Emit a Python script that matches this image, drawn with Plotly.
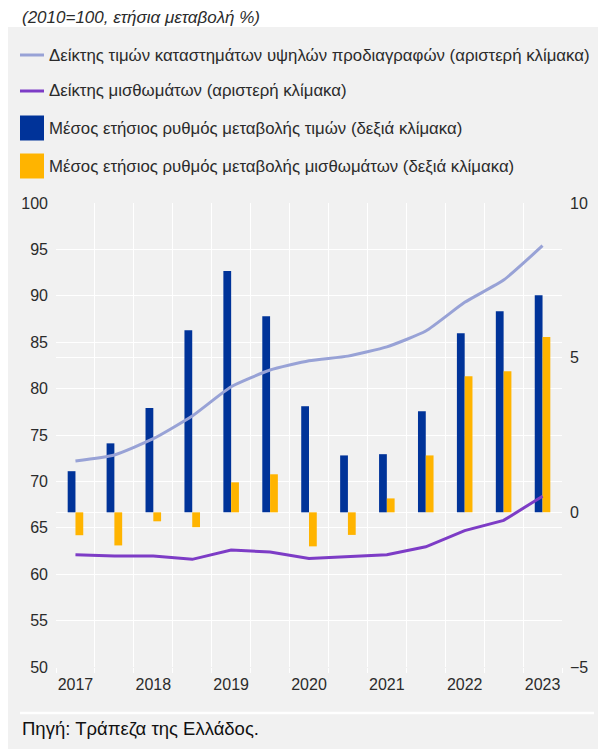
import plotly.graph_objects as go

# ---- data (semi-annual observations, 2017-2023) ----
periods = ["2017 Α", "2017 Β", "2018 Α", "2018 Β", "2019 Α", "2019 Β", "2020 Α",
           "2020 Β", "2021 Α", "2021 Β", "2022 Α", "2022 Β", "2023 Α"]
year_labels = ["2017", "2018", "2019", "2020", "2021", "2022", "2023"]

price_index = [72.2, 72.85, 74.6, 77.05, 80.2, 82.0, 83.0, 83.5, 84.5, 86.2, 89.3, 91.7, 95.4]
rent_index = [62.1, 61.95, 61.95, 61.6, 62.6, 62.4, 61.7, 61.9, 62.1, 62.95, 64.7, 65.8, 68.4]
price_growth = [1.33, 2.23, 3.37, 5.89, 7.8, 6.34, 3.43, 1.84, 1.88, 3.27, 5.79, 6.5, 7.02]
rent_growth = [-0.74, -1.07, -0.29, -0.48, 0.97, 1.23, -1.1, -0.73, 0.45, 1.84, 4.4, 4.56, 5.67]

names = [
    "Δείκτης τιμών καταστημάτων υψηλών προδιαγραφών (αριστερή κλίμακα)",
    "Δείκτης μισθωμάτων (αριστερή κλίμακα)",
    "Μέσος ετήσιος ρυθμός μεταβολής τιμών (δεξιά κλίμακα)",
    "Μέσος ετήσιος ρυθμός μεταβολής μισθωμάτων (δεξιά κλίμακα)",
]
colors = ["#98a2d6", "#7d3cc6", "#003399", "#ffb400"]
kinds = ["line", "line", "bar", "bar"]

x = list(range(len(periods)))
FONT = "Liberation Sans, Arial, sans-serif"
BG = "#f1f1f1"
TXT = "#2b2b2b"

# the page body adds an 8px offset; figure is sized to the window minus it
OFF = 8
W, H = 598, 741
ml, mr, mt, mb = 48, 44, 195, 82
pw, ph = W - ml - mr, H - mt - mb


def px_x(p):  # page pixel -> paper x
    return (p - OFF - ml) / pw


def px_y(p):  # page pixel -> paper y
    return (H - mb - (p - OFF)) / ph


fig = go.Figure()
# bars on the right-hand scale (main y axis, drawn underneath)
fig.add_trace(go.Bar(x=x, y=price_growth, name=names[2], marker=dict(color=colors[2], line_width=0),
                     width=0.2, offset=-0.2, offsetgroup="p", yaxis="y", showlegend=False))
fig.add_trace(go.Bar(x=x, y=rent_growth, name=names[3], marker=dict(color=colors[3], line_width=0),
                     width=0.2, offset=0.0, offsetgroup="r", yaxis="y", showlegend=False))
# lines on the left-hand scale (overlaying axis, drawn on top)
fig.add_trace(go.Scatter(x=x, y=price_index, name=names[0], mode="lines",
                         line=dict(color=colors[0], width=3, shape="spline", smoothing=0.5),
                         yaxis="y2", showlegend=False))
fig.add_trace(go.Scatter(x=x, y=rent_index, name=names[1], mode="lines",
                         line=dict(color=colors[1], width=3),
                         yaxis="y2", showlegend=False))

shapes = [
    dict(type="rect", xref="paper", yref="paper", layer="below",
         x0=px_x(7), x1=px_x(598), y0=px_y(760), y1=px_y(27),
         fillcolor=BG, line_width=0),
    dict(type="line", xref="paper", yref="paper",
         x0=px_x(20), x1=px_x(594), y0=px_y(713), y1=px_y(713),
         line=dict(color="white", width=2.5)),
]
annotations = [
    dict(text="<i>(2010=100, ετήσια μεταβολή %)</i>", xref="paper", yref="paper",
         x=px_x(20), y=px_y(18), xanchor="left", yanchor="middle",
         showarrow=False, font=dict(size=17, color=TXT)),
    dict(text="Πηγή: Τράπεζα της Ελλάδος.", xref="paper", yref="paper",
         x=px_x(20), y=px_y(728), xanchor="left", yanchor="middle",
         showarrow=False, font=dict(size=18.5, color="#111")),
]
# legend: swatches + real text
legend_y = [55, 91, 128, 166]
for name, col, kind, yc in zip(names, colors, kinds, legend_y):
    if kind == "line":
        shapes.append(dict(type="line", xref="paper", yref="paper",
                           x0=px_x(20), x1=px_x(44), y0=px_y(yc), y1=px_y(yc),
                           line=dict(color=col, width=3)))
    else:
        shapes.append(dict(type="rect", xref="paper", yref="paper",
                           x0=px_x(20), x1=px_x(44), y0=px_y(yc + 12.5), y1=px_y(yc - 12.5),
                           fillcolor=col, line_width=0))
    annotations.append(dict(text=name, xref="paper", yref="paper",
                            x=px_x(47), y=px_y(yc), xanchor="left", yanchor="middle",
                            showarrow=False, font=dict(size=16.8, color=TXT)))

fig.update_layout(
    width=W, height=H,
    margin=dict(l=ml, r=mr, t=mt, b=mb, autoexpand=False),
    paper_bgcolor="white",
    plot_bgcolor=BG,
    font=dict(family=FONT, size=16, color=TXT),
    barmode="overlay",
    showlegend=False,
    xaxis=dict(
        range=[-0.5, len(periods) - 0.5],
        tickmode="array",
        tickvals=[periods.index(y + " Α") for y in year_labels],
        ticktext=year_labels,
        showgrid=False, zeroline=False, showline=False,
        ticks="", tickfont=dict(size=16, color=TXT), ticklabelstandoff=6,
        minor=dict(tickmode="array",
                   tickvals=[i - 0.5 for i in range(len(periods) + 1)],
                   showgrid=True, gridcolor="white", gridwidth=1.2,
                   ticks="outside", ticklen=5, tickcolor="white", tickwidth=1.2),
    ),
    yaxis=dict(
        range=[-5, 10], dtick=5, tick0=-5, side="right",
        showgrid=True, gridcolor="white", gridwidth=1.2,
        zeroline=False, showline=False, ticks="",
        tickfont=dict(size=16, color=TXT), ticklabelstandoff=7,
    ),
    yaxis2=dict(
        range=[50, 100], dtick=5, tick0=50, side="left", overlaying="y",
        showgrid=True, gridcolor="white", gridwidth=1.2,
        zeroline=False, showline=False, ticks="",
        tickfont=dict(size=16, color=TXT), ticklabelstandoff=7,
    ),
    shapes=shapes,
    annotations=annotations,
)

fig.write_html("out.html")
